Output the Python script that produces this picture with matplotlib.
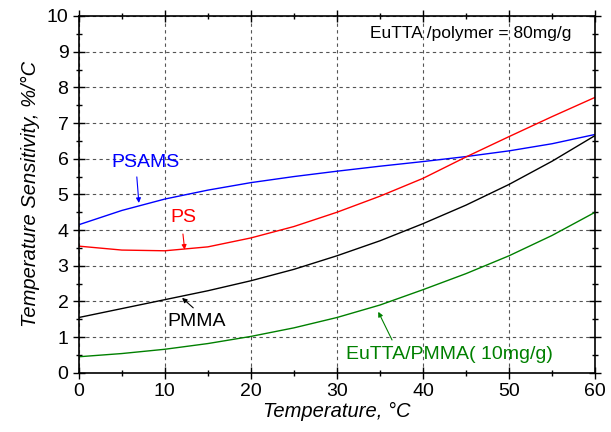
import numpy as np
import matplotlib.pyplot as plt

plt.rcParams['font.family'] = ['Liberation Sans', 'DejaVu Sans']

# temperature (deg C)
temp = [0, 5, 10, 15, 20, 25, 30, 35, 40, 45, 50, 55, 60]

# sensitivity (%/deg C)
psams = [4.15, 4.55, 4.87, 5.12, 5.33, 5.50, 5.65, 5.79, 5.92, 6.06, 6.22, 6.42, 6.68]
ps = [3.55, 3.44, 3.42, 3.53, 3.78, 4.10, 4.50, 4.95, 5.45, 6.05, 6.62, 7.18, 7.72]
pmma = [1.55, 1.80, 2.05, 2.30, 2.58, 2.90, 3.28, 3.70, 4.18, 4.70, 5.28, 5.93, 6.65]
eutta_pmma = [0.45, 0.54, 0.66, 0.82, 1.02, 1.26, 1.55, 1.90, 2.33, 2.78, 3.28, 3.85, 4.50]

fig = plt.figure(figsize=(6.11, 4.32), dpi=100)
ax = fig.add_axes([0.129, 0.137, 0.845, 0.826])

ax.plot(temp, psams, color='blue', lw=1)
ax.plot(temp, ps, color='red', lw=1)
ax.plot(temp, pmma, color='black', lw=1)
ax.plot(temp, eutta_pmma, color='green', lw=1)

ax.set_xlim(0, 60)
ax.set_ylim(0, 10)
ax.set_xticks(np.arange(0, 61, 10))
ax.set_yticks(np.arange(0, 11, 1))
ax.set_xticks(np.arange(0, 61, 5), minor=True)
ax.set_yticks(np.arange(0, 10.1, 0.5), minor=True)
ax.tick_params(which='both', direction='inout', top=True, right=True,
               labelsize=14, width=1)
ax.tick_params(which='major', length=8)
ax.tick_params(which='minor', length=4)
for s in ax.spines.values():
    s.set_linewidth(1.2)
ax.grid(True, which='major', ls=(0, (3, 3)), color='#555555', lw=0.8)

ax.set_xlabel('Temperature, °C', fontsize=14.5, style='italic', labelpad=1)
ax.set_ylabel('Temperature Sensitivity, %/°C', fontsize=14.5, style='italic', labelpad=5)

# labels: (text, text pos, arrow start, arrow tip, colour)
labels = [
    ('PSAMS', (7.7, 5.9), (6.74, 5.49), (6.98, 4.76), 'blue'),
    ('PS', (12.1, 4.34), (12.1, 3.89), (12.3, 3.45), 'red'),
    ('PMMA', (13.7, 1.43), (13.3, 1.82), (12.0, 2.1), 'black'),
    ('EuTTA/PMMA( 10mg/g)', (43.1, 0.5), (36.4, 0.92), (34.8, 1.71), 'green'),
]
for txt, pos, start, tip, c in labels:
    ax.text(pos[0], pos[1], txt, color=c, fontsize=14, ha='center', va='center')
    ax.annotate('', xy=tip, xytext=start,
                arrowprops=dict(arrowstyle='-|>', lw=0.8, mutation_scale=7,
                                color=c, shrinkA=0, shrinkB=0))

ax.text(45.5, 9.5, 'EuTTA /polymer = 80mg/g', fontsize=12.5, ha='center',
        va='center')

fig.savefig('out.png', dpi=100)
